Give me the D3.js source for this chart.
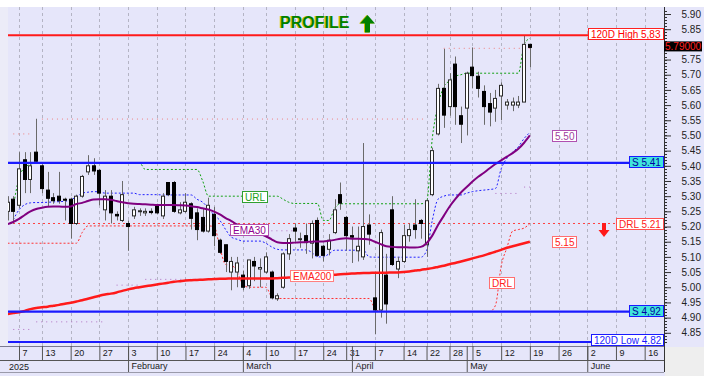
<!DOCTYPE html>
<html>
<head>
<meta charset="utf-8">
<script src="https://cdn.jsdelivr.net/npm/d3@7/dist/d3.min.js"></script>
<style>
  body { margin: 0; background: #fff; }
  svg { display: block; font-family: "Liberation Sans", Arial, sans-serif; }
</style>
</head>
<body>
<div id="chart"></div>
<script>
(function(){
  var W = 704, H = 376;
  var plotL = 8, plotR = 664, plotT = 7, plotB = 346;
  var step = 5.74;

  // trading calendar
  var firstDay = "2025-01-02", lastDay = "2025-06-20";
  var holidays = ["2025-01-06", "2025-03-03", "2025-03-28", "2025-04-18", "2025-04-21", "2025-05-01"];

  // daily candles, 2 Jan .. 19 May
  var opens = [5.25,
    5.29, 5.27, 5.42, 5.355, 5.445, 5.40, 5.32, 5.295, 5.30, 5.29,
    5.29, 5.21, 5.30, 5.38, 5.40, 5.385, 5.255, 5.30, 5.24, 5.22,
    5.21, 5.235, 5.25, 5.245, 5.25, 5.27, 5.235, 5.345, 5.345, 5.245,
    5.25, 5.275, 5.245, 5.23, 5.185, 5.24, 5.155, 5.14, 5.05, 5.05,
    5.04, 5.005, 5.085, 5.06, 5.05, 5.05, 4.962, 5.00, 5.11, 5.195,
    5.16, 5.17, 5.145, 5.22, 5.135, 5.125, 5.18, 5.305, 5.23, 5.17,
    5.12, 5.10, 5.205, 4.965, 4.925, 5.04, 5.255, 5.06, 5.085, 5.17,
    5.205, 5.22, 5.14, 5.305, 5.505, 5.655, 5.595, 5.735, 5.565, 5.59,
    5.725, 5.695, 5.645, 5.605, 5.59, 5.63, 5.60, 5.60, 5.60, 5.61,
    5.80];
  var highs = [5.30,
    5.30, 5.445, 5.445, 5.445, 5.555, 5.405, 5.38, 5.31, 5.38, 5.295,
    5.295, 5.305, 5.37, 5.435, 5.425, 5.39, 5.32, 5.32, 5.25, 5.35,
    5.22, 5.265, 5.26, 5.26, 5.26, 5.275, 5.31, 5.345, 5.35, 5.28,
    5.31, 5.28, 5.26, 5.26, 5.295, 5.265, 5.16, 5.14, 5.10, 5.10,
    5.055, 5.09, 5.10, 5.095, 5.115, 5.055, 4.98, 5.115, 5.175, 5.21,
    5.18, 5.21, 5.22, 5.23, 5.14, 5.175, 5.29, 5.345, 5.235, 5.20,
    5.20, 5.475, 5.24, 5.045, 5.19, 5.11, 5.30, 5.10, 5.205, 5.21,
    5.29, 5.225, 5.29, 5.46, 5.67, 5.785, 5.705, 5.76, 5.595, 5.71,
    5.79, 5.71, 5.665, 5.64, 5.65, 5.675, 5.62, 5.625, 5.63, 5.83,
    5.80];
  var lows = [5.22,
    5.21, 5.26, 5.31, 5.31, 5.41, 5.31, 5.265, 5.275, 5.275, 5.22,
    5.16, 5.205, 5.295, 5.37, 5.37, 5.27, 5.22, 5.21, 5.22, 5.215,
    5.12, 5.225, 5.235, 5.235, 5.24, 5.24, 5.225, 5.30, 5.245, 5.24,
    5.245, 5.19, 5.155, 5.18, 5.18, 5.135, 5.11, 5.05, 4.99, 5.00,
    4.99, 4.995, 5.02, 5.00, 5.045, 4.96, 4.955, 4.995, 5.09, 5.15,
    5.13, 5.11, 5.095, 5.10, 5.085, 5.105, 5.175, 5.255, 5.12, 5.08,
    5.085, 5.09, 5.14, 4.845, 4.90, 4.88, 5.07, 5.03, 5.08, 5.15,
    5.16, 5.16, 5.10, 5.30, 5.50, 5.525, 5.565, 5.535, 5.475, 5.50,
    5.655, 5.625, 5.535, 5.53, 5.545, 5.55, 5.585, 5.58, 5.59, 5.61,
    5.725];
  var closes = [5.28,
    5.25, 5.39, 5.355, 5.40, 5.415, 5.325, 5.293, 5.285, 5.285, 5.288,
    5.21, 5.30, 5.365, 5.40, 5.383, 5.31, 5.30, 5.245, 5.235, 5.305,
    5.20, 5.255, 5.252, 5.25, 5.246, 5.245, 5.30, 5.305, 5.25, 5.255,
    5.28, 5.227, 5.19, 5.185, 5.27, 5.17, 5.115, 5.085, 5.085, 5.08,
    5.00, 5.09, 5.07, 5.065, 5.10, 4.965, 4.972, 5.11, 5.16, 5.185,
    5.16, 5.147, 5.21, 5.105, 5.105, 5.155, 5.255, 5.277, 5.17, 5.165,
    5.135, 5.20, 5.175, 4.925, 5.18, 4.945, 5.075, 5.085, 5.17, 5.19,
    5.19, 5.21, 5.285, 5.45, 5.655, 5.567, 5.683, 5.595, 5.537, 5.705,
    5.697, 5.655, 5.595, 5.577, 5.622, 5.665, 5.61, 5.61, 5.61, 5.80,
    5.79];

  // indicator lines, one value per candle
  var ema30 = [5.208,
    5.215, 5.225, 5.238, 5.250, 5.258, 5.262, 5.265, 5.266, 5.266, 5.265,
    5.266, 5.274, 5.278, 5.284, 5.289, 5.290, 5.290, 5.288, 5.284, 5.280,
    5.277, 5.275, 5.274, 5.273, 5.272, 5.271, 5.271, 5.271, 5.271, 5.270,
    5.269, 5.267, 5.264, 5.260, 5.256, 5.249, 5.240, 5.228, 5.218, 5.207,
    5.199, 5.190, 5.184, 5.176, 5.168, 5.158, 5.148, 5.146, 5.146, 5.147,
    5.148, 5.149, 5.150, 5.151, 5.151, 5.153, 5.156, 5.160, 5.161, 5.160,
    5.160, 5.159, 5.157, 5.150, 5.142, 5.135, 5.133, 5.132, 5.132, 5.131,
    5.131, 5.133, 5.145, 5.170, 5.205, 5.235, 5.265, 5.290, 5.312, 5.330,
    5.348, 5.364, 5.377, 5.392, 5.406, 5.418, 5.430, 5.442, 5.456, 5.476,
    5.500];
  var ema200 = [4.912,
    4.915, 4.918, 4.922, 4.928, 4.932, 4.934, 4.936, 4.939, 4.942, 4.946,
    4.949, 4.953, 4.957, 4.962, 4.967, 4.972, 4.976, 4.979, 4.983, 4.988,
    4.993, 4.997, 5.000, 5.003, 5.006, 5.009, 5.012, 5.015, 5.018, 5.020,
    5.022, 5.023, 5.024, 5.025, 5.026, 5.027, 5.028, 5.028, 5.029, 5.029,
    5.029, 5.029, 5.029, 5.029, 5.029, 5.029, 5.030, 5.031, 5.032, 5.033,
    5.034, 5.035, 5.036, 5.037, 5.038, 5.040, 5.041, 5.043, 5.044, 5.045,
    5.046, 5.047, 5.047, 5.048, 5.048, 5.048, 5.049, 5.049, 5.050, 5.052,
    5.055, 5.057, 5.060, 5.063, 5.067, 5.071, 5.076, 5.080, 5.085, 5.090,
    5.095, 5.100, 5.105, 5.111, 5.117, 5.123, 5.130, 5.135, 5.140, 5.145,
    5.150];
  var urlLine = [null,
    5.265, 5.36, 5.395, 5.405, 5.41, 5.41, 5.41, 5.41, 5.41, 5.41,
    5.41, 5.41, 5.41, 5.41, 5.41, 5.41, 5.41, 5.41, 5.41, 5.41,
    5.41, 5.41, 5.41, 5.388, 5.388, 5.388, 5.388, 5.388, 5.388, 5.388,
    5.388, 5.388, 5.388, 5.35, 5.30, 5.30, 5.30, 5.30, 5.30, 5.30,
    5.30, 5.30, 5.30, 5.30, 5.30, 5.30, 5.30, 5.29, 5.28, 5.276,
    5.276, 5.276, 5.276, 5.276, 5.22, 5.22, 5.26, 5.275, 5.275, 5.275,
    5.275, 5.275, 5.275, 5.275, 5.275, 5.275, 5.275, 5.275, 5.275, 5.275,
    5.275, 5.275, 5.28, 5.49, 5.60, 5.66, 5.68, 5.695, 5.70, 5.705,
    5.705, 5.705, 5.705, 5.705, 5.705, 5.705, 5.705, 5.705, 5.705, 5.80,
    5.82];
  var lowerBand = [null,
    5.222, 5.255, 5.272, 5.278, 5.279, 5.279, 5.28, 5.281, 5.282, 5.283,
    5.288, 5.298, 5.31, 5.313, 5.315, 5.314, 5.31, 5.31, 5.31, 5.31,
    5.31, 5.31, 5.305, 5.305, 5.305, 5.305, 5.304, 5.304, 5.304, 5.304,
    5.304, 5.304, 5.29, 5.28, 5.26, 5.238, 5.22, 5.19, 5.165, 5.158,
    5.152, 5.152, 5.152, 5.152, 5.145, 5.133, 5.125, 5.123, 5.123, 5.123,
    5.123, 5.123, 5.115, 5.10, 5.10, 5.11, 5.122, 5.122, 5.122, 5.122,
    5.122, 5.122, 5.10, 5.099, 5.099, 5.099, 5.099, 5.099, 5.099, 5.099,
    5.099, 5.099, 5.12, 5.22, 5.29, 5.30, 5.304, 5.304, 5.304, 5.31,
    5.315, 5.318, 5.32, 5.322, 5.325, 5.39, 5.425, 5.445, 5.463, 5.49,
    5.51];
  var drlLine = [5.145,
    5.145, 5.145, 5.145, 5.145, 5.145, 5.145, 5.145, 5.145, 5.145, 5.145,
    5.145, 5.145, 5.18, 5.202, 5.202, 5.202, 5.202, 5.202, 5.202, 5.202,
    5.202, 5.202, 5.202, 5.202, 5.202, 5.202, 5.202, 5.202, 5.202, 5.202,
    5.202, 5.202, 5.202, 5.202, 5.202, 5.20, 5.13, 5.075, 5.073, 5.05,
    5.01, 5.00, 5.00, 5.00, 5.00, 4.97, 4.963, 4.963, 4.963, 4.963,
    4.963, 4.963, 4.963, 4.963, 4.963, 4.963, 4.963, 4.963, 4.963, 4.963,
    4.963, 4.963, 4.963, 4.93, 4.92, 4.92, 4.92, 4.92, 4.92, 4.92,
    4.92, 4.92, 4.92, 4.92, 4.92, 4.92, 4.92, 4.92, 4.92, 4.92,
    4.92, 4.92, 4.92, 4.92, 4.94, 5.07, 5.13, 5.185, 5.19, 5.195,
    5.21];

  // faint dotted levels [from, to, value]
  var upperLevels = [["2025-01-03", "2025-01-09", 5.505], ["2025-01-13", "2025-04-22", 5.554], ["2025-04-25", "2025-05-19", 5.787]];
  var lowerLevels = [["2025-01-03", "2025-01-09", 4.861], ["2025-01-10", "2025-01-28", 4.886], ["2025-01-30", "2025-02-05", 5.007],
    ["2025-02-06", "2025-02-20", 5.026], ["2025-02-27", "2025-03-17", 5.186], ["2025-05-09", "2025-05-15", 5.309], ["2025-05-16", "2025-05-19", 5.33]];

  var high120 = 5.83, low120 = 4.82, supportHi = 5.41, supportLo = 4.92, drlLevel = 5.21, lastPrice = 5.79;

  // label anchors [text, date, value]
  var lineTags = [["EMA30", "2025-03-05", 5.191], ["EMA200", "2025-03-20", 5.040], ["URL", "2025-03-06", 5.300], ["DRL", "2025-05-12", 5.015]];

  // ---- calendar
  var parse = d3.timeParse("%Y-%m-%d"), fmt = d3.timeFormat("%Y-%m-%d");
  var days = d3.timeDay.range(parse(firstDay), d3.timeDay.offset(parse(lastDay), 1)).filter(function(d){
    return d.getDay() > 0 && d.getDay() < 6 && holidays.indexOf(fmt(d)) < 0;
  });
  var dayKeys = days.map(fmt);
  var weekTicks = dayKeys.filter(function(k, i){
    return i > 0 && +d3.timeMonday.floor(days[i]) !== +d3.timeMonday.floor(days[i-1]);
  });
  var monthTicks = dayKeys.filter(function(k, i){
    return i > 0 && days[i].getMonth() !== days[i-1].getMonth();
  });

  var x0 = 7.52;
  var x = d3.scalePoint().domain(dayKeys).range([x0, x0 + step * (dayKeys.length - 1)]);
  var y = d3.scaleLinear().domain([4.8065, 5.9198]).range([plotB, 8]);

  var svg = d3.select("#chart").append("svg").attr("width", W).attr("height", H);

  // backgrounds
  svg.append("rect").attr("width", W).attr("height", H).attr("fill", "#e6e6fa");
  svg.append("rect").attr("width", W).attr("height", plotT).attr("fill", "#ffffff");
  svg.append("rect").attr("x", 0).attr("y", plotT).attr("width", plotL).attr("height", plotB - plotT).attr("fill", "#ececf8");
  svg.append("rect").attr("x", plotR + 1).attr("y", plotB + 1).attr("width", W - plotR - 1).attr("height", H - plotB - 1).attr("fill", "#eeeeee");

  svg.append("defs").append("clipPath").attr("id", "clip")
    .append("rect").attr("x", plotL).attr("y", plotT).attr("width", plotR - plotL).attr("height", plotB - plotT);
  var plot = svg.append("g").attr("clip-path", "url(#clip)");

  function px(v){ return Math.round(v) + 0.5; }

  // vertical grid
  plot.append("g").selectAll("line").data(weekTicks).enter().append("line")
    .attr("x1", function(d){ return px(x(d)); }).attr("x2", function(d){ return px(x(d)); })
    .attr("y1", plotT).attr("y2", plotB)
    .attr("stroke", "#b4b4c4").attr("stroke-dasharray", "3,3");

  // faint levels
  function levels(list, color){
    plot.append("g").selectAll("line").data(list).enter().append("line")
      .attr("x1", function(d){ return x(d[0]); }).attr("x2", function(d){ return x(d[1]); })
      .attr("y1", function(d){ return y(d[2]); }).attr("y2", function(d){ return y(d[2]); })
      .attr("stroke", color).attr("stroke-width", 1).attr("stroke-dasharray", "1,4");
  }
  levels(upperLevels, "#f08080");
  levels(lowerLevels, "#b070c0");

  // DRL horizontal
  plot.append("line").attr("x1", plotL).attr("x2", plotR).attr("y1", y(drlLevel)).attr("y2", y(drlLevel))
    .attr("stroke", "#ff4040").attr("stroke-dasharray", "2,3");

  function series(values, color, width, dash){
    var line = d3.line()
      .defined(function(d){ return d != null; })
      .x(function(d, i){ return x(dayKeys[i]); })
      .y(function(d){ return y(d); })
      .curve(d3.curveMonotoneX);
    var p = plot.append("path").datum(values).attr("d", line)
      .attr("fill", "none").attr("stroke", color).attr("stroke-width", width);
    if (dash) p.attr("stroke-dasharray", dash);
  }

  series(drlLine, "#ff3030", 1, "2,2");
  series(lowerBand, "#2020ff", 1, "2,2");
  series(urlLine, "#10a010", 1, "2,2");

  // candles
  var candles = opens.map(function(o, i){
    return { k: dayKeys[i], o: o, h: highs[i], l: lows[i], c: closes[i] };
  });
  var cg = plot.append("g");
  cg.selectAll(".wick").data(candles).enter().append("line")
    .attr("x1", function(d){ return px(x(d.k)); }).attr("x2", function(d){ return px(x(d.k)); })
    .attr("y1", function(d){ return y(d.h); }).attr("y2", function(d){ return y(d.l); })
    .attr("stroke", "#6a6a6a");
  cg.selectAll(".body").data(candles).enter().append("rect")
    .attr("x", function(d){ return Math.round(x(d.k)) - 1.5; })
    .attr("width", 3)
    .attr("y", function(d){ return y(Math.max(d.o, d.c)); })
    .attr("height", function(d){ return Math.max(1, y(Math.min(d.o, d.c)) - y(Math.max(d.o, d.c))); })
    .attr("fill", function(d){ return d.c >= d.o ? "#ffffff" : "#000000"; })
    .attr("stroke", function(d){ return d.c >= d.o ? "#2a2a2a" : "#000000"; });

  // moving averages
  series(ema200, "#ff1a1a", 2.5);
  series(ema30, "#800080", 2);

  // solid levels
  function hline(v, color, w){
    plot.append("line").attr("x1", plotL).attr("x2", plotR).attr("y1", y(v)).attr("y2", y(v))
      .attr("stroke", color).attr("stroke-width", w);
  }
  hline(high120, "#ff1a1a", 2);
  hline(supportHi, "#1a1aff", 2.2);
  hline(supportLo, "#1a1aff", 2.2);
  hline(low120, "#1a1aff", 2);

  // tags
  var tagLayer = svg.append("g");
  function tag(text, cx, cy, anchor, fill, stroke, color){
    var g = tagLayer.append("g");
    var r = g.append("rect");
    var t = g.append("text").text(text).attr("font-size", 10).attr("fill", color);
    var w = Math.round(t.node().getComputedTextLength() + 5);
    var left = anchor === "end" ? cx - w : cx - w / 2;
    left = Math.round(left) + 0.5;
    var top = Math.round(cy - 5.5) + 0.5;
    r.attr("x", left).attr("y", top).attr("width", w).attr("height", 11)
      .attr("fill", fill).attr("stroke", stroke);
    t.attr("x", left + 2.5).attr("y", top + 9);
  }
  var tagRight = plotR - 1;
  tag("120D High 5,83", tagRight, y(high120) - 2, "end", "#ffffff", "#ff2020", "#ff0000");
  tag("S 5.41", tagRight, y(supportHi) - 1, "end", "#40e4dc", "#1a1aff", "#0000a0");
  tag("DRL 5.21", tagRight, y(drlLevel), "end", "#ffffff", "#ff5050", "#ff1a1a");
  tag("S 4,92", tagRight, y(supportLo) - 1, "end", "#40e4dc", "#1a1aff", "#0000a0");
  tag("120D Low 4.82", tagRight, y(low120) - 2, "end", "#ffffff", "#1a1aff", "#1a1aff");

  var tagStyles = {
    "EMA30": ["#ffffff", "#b050b0", "#900090"],
    "EMA200": ["#ffffff", "#ff8080", "#ff2020"],
    "URL": ["#ffffff", "#30a030", "#20a020"],
    "DRL": ["#ffffff", "#ff7070", "#ff2020"]
  };
  lineTags.forEach(function(d){
    var s = tagStyles[d[0]];
    tag(d[0], x(d[1]), y(d[2]), "middle", s[0], s[1], s[2]);
  });
  var lastKey = "2025-05-27";
  var f2 = d3.format(".2f");
  tag(f2(ema30[ema30.length - 1]), x(lastKey), y(ema30[ema30.length - 1]), "middle", "#ffffff", "#b050b0", "#a040a0");
  tag(f2(ema200[ema200.length - 1]), x(lastKey), y(ema200[ema200.length - 1]), "middle", "#ffffff", "#ff7070", "#ff2020");

  // DRL down arrow
  svg.append("path")
    .attr("d", "M602,223 L606,223 L606,230 L609.5,230 L604,237 L598.5,230 L602,230 Z")
    .attr("fill", "#ff1a1a");

  // PROFILE title with arrow
  var arrow = "M360,23.5 L367.5,15 L375,23.5 L370,23.5 L370,32.5 L365,32.5 L365,23.5 Z";
  svg.append("text").attr("x", 279).attr("y", 28).text("PROFILE")
    .attr("font-size", 16).attr("font-weight", "bold").attr("fill", "#d4c400");
  svg.append("path").attr("d", arrow).attr("fill", "#d4c400").attr("transform", "translate(-1,0)");
  svg.append("text").attr("x", 280).attr("y", 28).text("PROFILE")
    .attr("font-size", 16).attr("font-weight", "bold").attr("fill", "#008000");
  svg.append("path").attr("d", arrow).attr("fill", "#008000");

  // right price axis
  var lp = y(lastPrice) - 1;
  var yAxis = d3.axisRight(y).tickValues(d3.range(97, 119).map(function(k){ return k / 20; }))
    .tickSize(7).tickFormat(d3.format(".2f"));
  var ga = svg.append("g").attr("transform", "translate(" + plotR + ",0)").call(yAxis)
    .attr("font-family", null).attr("font-size", 10);
  ga.select(".domain").remove();
  ga.selectAll("line").attr("stroke", "#333");
  ga.selectAll("text").attr("x", 37).attr("text-anchor", "end").attr("fill", "#222");
  // the last-price box hides the label under it
  ga.selectAll(".tick text").filter(function(d){ return Math.abs(y(d) - lp) < 8; }).remove();
  svg.append("g").selectAll("line").data(d3.range(482, 592).map(function(k){ return k / 100; }))
    .enter().append("line")
    .attr("x1", plotR).attr("x2", plotR + 3)
    .attr("y1", function(d){ return px(y(d)); }).attr("y2", function(d){ return px(y(d)); })
    .attr("stroke", "#333");
  svg.append("line").attr("x1", plotR + 0.5).attr("x2", plotR + 0.5).attr("y1", plotT).attr("y2", 372)
    .attr("stroke", "#333");

  // last price
  svg.append("rect").attr("x", plotR).attr("y", lp - 5).attr("width", 38).attr("height", 10).attr("fill", "#000");
  svg.append("text").attr("x", plotR + 1).attr("y", lp + 3.5).text("5.79000")
    .attr("font-size", 10).attr("fill", "#ff2020");

  // bottom date axis
  svg.append("line").attr("x1", 0).attr("x2", plotR).attr("y1", plotB + 0.5).attr("y2", plotB + 0.5).attr("stroke", "#7a7a90");
  svg.append("line").attr("x1", 0).attr("x2", plotR).attr("y1", 360.5).attr("y2", 360.5).attr("stroke", "#555");
  svg.append("line").attr("x1", 0).attr("x2", plotR).attr("y1", 372.5).attr("y2", 372.5).attr("stroke", "#9a9aaa");

  var xDays = d3.axisBottom(x).tickValues(weekTicks).tickSize(14).tickSizeOuter(0)
    .tickFormat(function(k){ return +k.slice(8); });
  var gd = svg.append("g").attr("transform", "translate(0," + plotB + ")").call(xDays)
    .attr("font-family", null).attr("font-size", 9);
  gd.select(".domain").remove();
  gd.selectAll("line").attr("stroke", "#555");
  gd.selectAll("text").attr("x", 3).attr("y", 4).attr("dy", "0.71em").attr("text-anchor", "start").attr("fill", "#1a1a1a");

  var monthName = d3.timeFormat("%B");
  var xMonths = d3.axisBottom(x).tickValues(monthTicks).tickSize(26).tickSizeOuter(0)
    .tickFormat(function(k){ return monthName(parse(k)); });
  var gm = svg.append("g").attr("transform", "translate(0," + plotB + ")").call(xMonths)
    .attr("font-family", null).attr("font-size", 9);
  gm.select(".domain").remove();
  gm.selectAll("line").attr("stroke", "#555");
  gm.selectAll("text").attr("x", 3).attr("y", 17).attr("dy", "0.71em").attr("text-anchor", "start").attr("fill", "#1a1a1a");
  svg.append("text").attr("x", 9).attr("y", 369.5).text("2025").attr("font-size", 9).attr("fill", "#1a1a1a");
})();
</script>
</body>
</html>
